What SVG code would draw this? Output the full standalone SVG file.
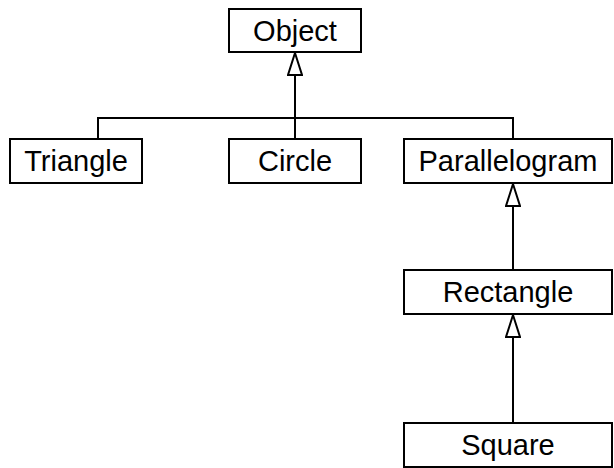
<svg xmlns="http://www.w3.org/2000/svg" width="614" height="468" viewBox="0 0 614 468">
<style>
.box{fill:#fff;stroke:#000;stroke-width:2}
.lbl{font-family:"Liberation Sans",Arial,Helvetica,sans-serif;font-size:29px;fill:#000;text-anchor:middle}
.edge{fill:none;stroke:#000;stroke-width:2}
</style>
<defs>
<marker id="inh" markerWidth="24" markerHeight="16" refX="23" refY="8" orient="auto" markerUnits="userSpaceOnUse" viewBox="0 0 24 16">
<path d="M23,8 L1,15 L1,1 Z" fill="#fff" stroke="#000" stroke-width="2"/>
</marker>
</defs>
<rect width="614" height="468" fill="#fff"/>
<g id="connectors">
<path class="edge" d="M98,139 V118 H513 V139"/>
<path class="edge" d="M295,139 V53" marker-end="url(#inh)"/>
<path class="edge" d="M513,270 V184" marker-end="url(#inh)"/>
<path class="edge" d="M513,423 V315" marker-end="url(#inh)"/>
</g>
<g id="object"><rect class="box" x="229" y="9" width="132" height="43"/><text class="lbl" x="295" y="41">Object</text></g>
<g id="triangle"><rect class="box" x="10" y="139" width="132" height="44"/><text class="lbl" x="76" y="171">Triangle</text></g>
<g id="circle"><rect class="box" x="229" y="139" width="132" height="44"/><text class="lbl" x="295" y="171">Circle</text></g>
<g id="parallelogram"><rect class="box" x="404" y="139" width="208" height="44"/><text class="lbl" x="508" y="171">Parallelogram</text></g>
<g id="rectangle"><rect class="box" x="404" y="270" width="208" height="44"/><text class="lbl" x="508" y="302">Rectangle</text></g>
<g id="square"><rect class="box" x="404" y="423" width="208" height="44"/><text class="lbl" x="508" y="455">Square</text></g>
</svg>
